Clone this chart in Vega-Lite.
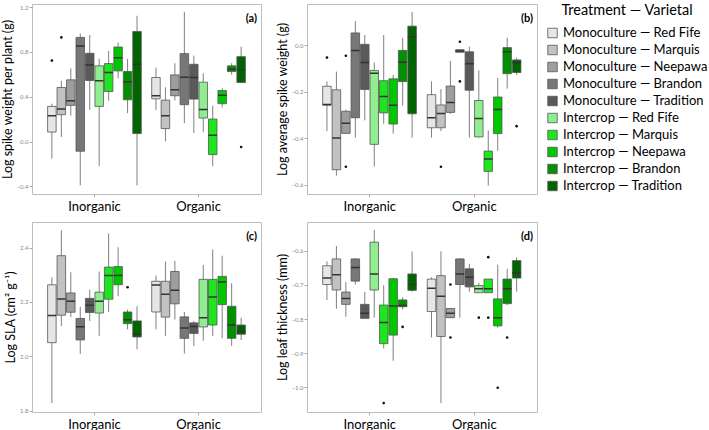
{
  "$schema": "https://vega.github.io/schema/vega-lite/v6.json",
  "padding": {"left": 0, "top": 3, "right": 0, "bottom": 0},
  "background": "white",
  "datasets": {
    "box": [
      {"p":"a","f":"Inorganic","t":"Monoculture — Red Fife","lo":-0.151,"q1":0.085,"m":0.231,"q3":0.314,"hi":0.338},
      {"p":"a","f":"Inorganic","t":"Monoculture — Marquis","lo":0.041,"q1":0.240,"m":0.290,"q3":0.483,"hi":0.542},
      {"p":"a","f":"Inorganic","t":"Monoculture — Neepawa","lo":0.231,"q1":0.323,"m":0.364,"q3":0.551,"hi":0.654},
      {"p":"a","f":"Inorganic","t":"Monoculture — Brandon","lo":-0.391,"q1":-0.086,"m":0.853,"q3":0.930,"hi":0.965},
      {"p":"a","f":"Inorganic","t":"Monoculture — Tradition","lo":0.284,"q1":0.545,"m":0.684,"q3":0.788,"hi":0.951},
      {"p":"a","f":"Inorganic","t":"Intercrop — Red Fife","lo":-0.220,"q1":0.314,"m":0.542,"q3":0.676,"hi":0.738},
      {"p":"a","f":"Inorganic","t":"Intercrop — Marquis","lo":0.364,"q1":0.447,"m":0.616,"q3":0.696,"hi":0.809},
      {"p":"a","f":"Inorganic","t":"Intercrop — Neepawa","lo":0.565,"q1":0.631,"m":0.749,"q3":0.844,"hi":0.885},
      {"p":"a","f":"Inorganic","t":"Intercrop — Brandon","lo":0.254,"q1":0.373,"m":0.533,"q3":0.625,"hi":0.738},
      {"p":"a","f":"Inorganic","t":"Intercrop — Tradition","lo":-0.391,"q1":0.071,"m":0.690,"q3":0.983,"hi":1.123},
      {"p":"a","f":"Organic","t":"Monoculture — Red Fife","lo":0.281,"q1":0.382,"m":0.409,"q3":0.572,"hi":0.660},
      {"p":"a","f":"Organic","t":"Monoculture — Marquis","lo":0.003,"q1":0.116,"m":0.231,"q3":0.370,"hi":0.485},
      {"p":"a","f":"Organic","t":"Monoculture — Neepawa","lo":0.367,"q1":0.409,"m":0.462,"q3":0.595,"hi":0.699},
      {"p":"a","f":"Organic","t":"Monoculture — Brandon","lo":0.165,"q1":0.329,"m":0.574,"q3":0.785,"hi":1.158},
      {"p":"a","f":"Organic","t":"Monoculture — Tradition","lo":0.076,"q1":0.379,"m":0.572,"q3":0.690,"hi":0.767},
      {"p":"a","f":"Organic","t":"Intercrop — Red Fife","lo":0.083,"q1":0.210,"m":0.287,"q3":0.530,"hi":0.610},
      {"p":"a","f":"Organic","t":"Intercrop — Marquis","lo":-0.220,"q1":-0.116,"m":0.056,"q3":0.201,"hi":0.320},
      {"p":"a","f":"Organic","t":"Intercrop — Neepawa","lo":0.305,"q1":0.338,"m":0.414,"q3":0.456,"hi":0.476},
      {"p":"a","f":"Organic","t":"Intercrop — Brandon","lo":0.596,"q1":0.625,"m":0.645,"q3":0.676,"hi":0.699},
      {"p":"a","f":"Organic","t":"Intercrop — Tradition","lo":0.527,"q1":0.527,"m":0.640,"q3":0.758,"hi":0.847},

      {"p":"b","f":"Inorganic","t":"Monoculture — Red Fife","lo":-0.369,"q1":-0.258,"m":-0.255,"q3":-0.177,"hi":-0.156},
      {"p":"b","f":"Inorganic","t":"Monoculture — Marquis","lo":-0.560,"q1":-0.535,"m":-0.399,"q3":-0.192,"hi":-0.114},
      {"p":"b","f":"Inorganic","t":"Monoculture — Neepawa","lo":-0.379,"q1":-0.379,"m":-0.336,"q3":-0.284,"hi":-0.277},
      {"p":"b","f":"Inorganic","t":"Monoculture — Brandon","lo":-0.397,"q1":-0.312,"m":-0.023,"q3":0.052,"hi":0.103},
      {"p":"b","f":"Inorganic","t":"Monoculture — Tradition","lo":-0.323,"q1":-0.191,"m":-0.075,"q3":0.003,"hi":0.043},
      {"p":"b","f":"Inorganic","t":"Intercrop — Red Fife","lo":-0.521,"q1":-0.426,"m":-0.121,"q3":-0.109,"hi":-0.075},
      {"p":"b","f":"Inorganic","t":"Intercrop — Marquis","lo":-0.338,"q1":-0.291,"m":-0.221,"q3":-0.153,"hi":0.043},
      {"p":"b","f":"Inorganic","t":"Intercrop — Neepawa","lo":-0.380,"q1":-0.339,"m":-0.258,"q3":-0.145,"hi":-0.128},
      {"p":"b","f":"Inorganic","t":"Intercrop — Brandon","lo":-0.260,"q1":-0.157,"m":-0.074,"q3":-0.023,"hi":0.031},
      {"p":"b","f":"Inorganic","t":"Intercrop — Tradition","lo":-0.397,"q1":-0.295,"m":0.034,"q3":0.081,"hi":0.142},
      {"p":"b","f":"Organic","t":"Monoculture — Red Fife","lo":-0.397,"q1":-0.355,"m":-0.312,"q3":-0.213,"hi":-0.156},
      {"p":"b","f":"Organic","t":"Monoculture — Marquis","lo":-0.369,"q1":-0.355,"m":-0.294,"q3":-0.257,"hi":-0.189},
      {"p":"b","f":"Organic","t":"Monoculture — Neepawa","lo":-0.295,"q1":-0.289,"m":-0.247,"q3":-0.176,"hi":-0.068},
      {"p":"b","f":"Organic","t":"Monoculture — Brandon","lo":-0.031,"q1":-0.031,"m":-0.026,"q3":-0.020,"hi":-0.020},
      {"p":"b","f":"Organic","t":"Monoculture — Tradition","lo":-0.397,"q1":-0.194,"m":-0.080,"q3":-0.029,"hi":-0.007},
      {"p":"b","f":"Organic","t":"Intercrop — Red Fife","lo":-0.397,"q1":-0.394,"m":-0.315,"q3":-0.238,"hi":-0.109},
      {"p":"b","f":"Organic","t":"Intercrop — Marquis","lo":-0.603,"q1":-0.542,"m":-0.489,"q3":-0.455,"hi":-0.366},
      {"p":"b","f":"Organic","t":"Intercrop — Neepawa","lo":-0.454,"q1":-0.380,"m":-0.277,"q3":-0.223,"hi":-0.142},
      {"p":"b","f":"Organic","t":"Intercrop — Brandon","lo":-0.187,"q1":-0.123,"m":-0.029,"q3":-0.011,"hi":0.031},
      {"p":"b","f":"Organic","t":"Intercrop — Tradition","lo":-0.128,"q1":-0.118,"m":-0.075,"q3":-0.064,"hi":-0.054},

      {"p":"c","f":"Inorganic","t":"Monoculture — Red Fife","lo":1.828,"q1":2.050,"m":2.150,"q3":2.263,"hi":2.290},
      {"p":"c","f":"Inorganic","t":"Monoculture — Marquis","lo":2.111,"q1":2.151,"m":2.211,"q3":2.370,"hi":2.464},
      {"p":"c","f":"Inorganic","t":"Monoculture — Neepawa","lo":2.144,"q1":2.162,"m":2.202,"q3":2.233,"hi":2.309},
      {"p":"c","f":"Inorganic","t":"Monoculture — Brandon","lo":2.008,"q1":2.060,"m":2.109,"q3":2.139,"hi":2.182},
      {"p":"c","f":"Inorganic","t":"Monoculture — Tradition","lo":2.130,"q1":2.161,"m":2.188,"q3":2.213,"hi":2.245},
      {"p":"c","f":"Inorganic","t":"Intercrop — Red Fife","lo":2.075,"q1":2.159,"m":2.202,"q3":2.236,"hi":2.312},
      {"p":"c","f":"Inorganic","t":"Intercrop — Marquis","lo":2.163,"q1":2.210,"m":2.297,"q3":2.328,"hi":2.452},
      {"p":"c","f":"Inorganic","t":"Intercrop — Neepawa","lo":2.221,"q1":2.263,"m":2.297,"q3":2.330,"hi":2.401},
      {"p":"c","f":"Inorganic","t":"Intercrop — Brandon","lo":2.099,"q1":2.120,"m":2.134,"q3":2.163,"hi":2.172},
      {"p":"c","f":"Inorganic","t":"Intercrop — Tradition","lo":2.026,"q1":2.071,"m":2.081,"q3":2.130,"hi":2.184},
      {"p":"c","f":"Organic","t":"Monoculture — Red Fife","lo":2.099,"q1":2.163,"m":2.262,"q3":2.276,"hi":2.297},
      {"p":"c","f":"Organic","t":"Monoculture — Marquis","lo":2.075,"q1":2.144,"m":2.228,"q3":2.276,"hi":2.349},
      {"p":"c","f":"Organic","t":"Monoculture — Neepawa","lo":2.135,"q1":2.193,"m":2.243,"q3":2.312,"hi":2.351},
      {"p":"c","f":"Organic","t":"Monoculture — Brandon","lo":2.010,"q1":2.066,"m":2.104,"q3":2.145,"hi":2.163},
      {"p":"c","f":"Organic","t":"Monoculture — Tradition","lo":2.038,"q1":2.084,"m":2.110,"q3":2.123,"hi":2.130},
      {"p":"c","f":"Organic","t":"Intercrop — Red Fife","lo":2.057,"q1":2.108,"m":2.142,"q3":2.283,"hi":2.336},
      {"p":"c","f":"Organic","t":"Intercrop — Marquis","lo":2.075,"q1":2.115,"m":2.218,"q3":2.283,"hi":2.393},
      {"p":"c","f":"Organic","t":"Intercrop — Neepawa","lo":2.066,"q1":2.190,"m":2.273,"q3":2.294,"hi":2.370},
      {"p":"c","f":"Organic","t":"Intercrop — Brandon","lo":2.038,"q1":2.066,"m":2.115,"q3":2.184,"hi":2.269},
      {"p":"c","f":"Organic","t":"Intercrop — Tradition","lo":2.060,"q1":2.081,"m":2.091,"q3":2.115,"hi":2.142},

      {"p":"d","f":"Inorganic","t":"Monoculture — Red Fife","lo":-0.744,"q1":-0.699,"m":-0.680,"q3":-0.644,"hi":-0.631},
      {"p":"d","f":"Inorganic","t":"Monoculture — Marquis","lo":-0.770,"q1":-0.715,"m":-0.670,"q3":-0.624,"hi":-0.586},
      {"p":"d","f":"Inorganic","t":"Monoculture — Neepawa","lo":-0.793,"q1":-0.757,"m":-0.740,"q3":-0.721,"hi":-0.692},
      {"p":"d","f":"Inorganic","t":"Monoculture — Brandon","lo":-0.699,"q1":-0.689,"m":-0.649,"q3":-0.624,"hi":-0.622},
      {"p":"d","f":"Inorganic","t":"Monoculture — Tradition","lo":-0.798,"q1":-0.798,"m":-0.783,"q3":-0.757,"hi":-0.721},
      {"p":"d","f":"Inorganic","t":"Intercrop — Red Fife","lo":-0.796,"q1":-0.715,"m":-0.668,"q3":-0.575,"hi":-0.539},
      {"p":"d","f":"Inorganic","t":"Intercrop — Marquis","lo":-0.886,"q1":-0.872,"m":-0.810,"q3":-0.759,"hi":-0.701},
      {"p":"d","f":"Inorganic","t":"Intercrop — Neepawa","lo":-0.922,"q1":-0.847,"m":-0.762,"q3":-0.682,"hi":-0.680},
      {"p":"d","f":"Inorganic","t":"Intercrop — Brandon","lo":-0.772,"q1":-0.764,"m":-0.760,"q3":-0.744,"hi":-0.736},
      {"p":"d","f":"Inorganic","t":"Intercrop — Tradition","lo":-0.720,"q1":-0.716,"m":-0.699,"q3":-0.668,"hi":-0.602},
      {"p":"d","f":"Organic","t":"Monoculture — Red Fife","lo":-0.854,"q1":-0.778,"m":-0.710,"q3":-0.683,"hi":-0.678},
      {"p":"d","f":"Organic","t":"Monoculture — Marquis","lo":-1.046,"q1":-0.851,"m":-0.733,"q3":-0.673,"hi":-0.602},
      {"p":"d","f":"Organic","t":"Monoculture — Neepawa","lo":-0.796,"q1":-0.796,"m":-0.783,"q3":-0.769,"hi":-0.769},
      {"p":"d","f":"Organic","t":"Monoculture — Brandon","lo":-0.796,"q1":-0.699,"m":-0.668,"q3":-0.624,"hi":-0.622},
      {"p":"d","f":"Organic","t":"Monoculture — Tradition","lo":-0.720,"q1":-0.706,"m":-0.678,"q3":-0.653,"hi":-0.639},
      {"p":"d","f":"Organic","t":"Intercrop — Red Fife","lo":-0.723,"q1":-0.723,"m":-0.711,"q3":-0.702,"hi":-0.694},
      {"p":"d","f":"Organic","t":"Intercrop — Marquis","lo":-0.723,"q1":-0.723,"m":-0.711,"q3":-0.683,"hi":-0.683},
      {"p":"d","f":"Organic","t":"Intercrop — Neepawa","lo":-0.825,"q1":-0.820,"m":-0.796,"q3":-0.741,"hi":-0.641},
      {"p":"d","f":"Organic","t":"Intercrop — Brandon","lo":-0.759,"q1":-0.755,"m":-0.711,"q3":-0.683,"hi":-0.653},
      {"p":"d","f":"Organic","t":"Intercrop — Tradition","lo":-0.720,"q1":-0.680,"m":-0.665,"q3":-0.629,"hi":-0.619}
    ],
    "out": [
      {"p":"a","f":"Inorganic","t":"Monoculture — Red Fife","v":0.723},
      {"p":"a","f":"Inorganic","t":"Monoculture — Marquis","v":0.930},
      {"p":"a","f":"Organic","t":"Intercrop — Tradition","v":-0.048},
      {"p":"b","f":"Inorganic","t":"Monoculture — Red Fife","v":-0.054},
      {"p":"b","f":"Inorganic","t":"Monoculture — Neepawa","v":-0.046},
      {"p":"b","f":"Inorganic","t":"Monoculture — Neepawa","v":-0.522},
      {"p":"b","f":"Organic","t":"Monoculture — Marquis","v":-0.522},
      {"p":"b","f":"Organic","t":"Monoculture — Brandon","v":0.014},
      {"p":"b","f":"Organic","t":"Monoculture — Brandon","v":-0.156},
      {"p":"b","f":"Organic","t":"Intercrop — Tradition","v":-0.348},
      {"p":"c","f":"Inorganic","t":"Intercrop — Brandon","v":2.254},
      {"p":"d","f":"Inorganic","t":"Intercrop — Marquis","v":-1.046},
      {"p":"d","f":"Inorganic","t":"Intercrop — Brandon","v":-0.823},
      {"p":"d","f":"Organic","t":"Monoculture — Neepawa","v":-0.699},
      {"p":"d","f":"Organic","t":"Monoculture — Neepawa","v":-0.854},
      {"p":"d","f":"Organic","t":"Intercrop — Red Fife","v":-0.796},
      {"p":"d","f":"Organic","t":"Intercrop — Marquis","v":-0.619},
      {"p":"d","f":"Organic","t":"Intercrop — Marquis","v":-0.796},
      {"p":"d","f":"Organic","t":"Intercrop — Neepawa","v":-1.001},
      {"p":"d","f":"Organic","t":"Intercrop — Brandon","v":-0.854}
    ]
  },
  "resolve": {"scale": {"fill": "shared"}, "legend": {"fill": "shared"}},
  "spacing": 7,
  "vconcat": [
    {
      "spacing": 13,
      "hconcat": [
        {
          "width": 229, "height": 190,
          "title": {"text": "(a)", "anchor": "end", "offset": -20, "dx": -4, "fontSize": 11, "fontWeight": "bold"},
          "encoding": {
            "x": {"field": "f", "type": "nominal", "scale": {"domain": ["Inorganic","Organic"], "paddingInner": 0.1, "paddingOuter": 0.15}, "axis": {"title": null}},
            "xOffset": {"field": "t", "type": "nominal", "scale": {"domain": ["Monoculture — Red Fife","Monoculture — Marquis","Monoculture — Neepawa","Monoculture — Brandon","Monoculture — Tradition","Intercrop — Red Fife","Intercrop — Marquis","Intercrop — Neepawa","Intercrop — Brandon","Intercrop — Tradition"], "paddingInner": 0.1}}
          },
          "layer": [
            {"data": {"name": "box"}, "transform": [{"filter": "datum.p === 'a'"}], "mark": {"type": "rule", "color": "#808080", "strokeWidth": 1},
             "encoding": {"y": {"field": "lo", "type": "quantitative", "title": "Log spike weight per plant (g)", "scale": {"domain": [-0.468, 1.228], "nice": false, "zero": false}, "axis": {"values": [-0.4, 0, 0.4, 0.8, 1.2], "format": ".1f"}}, "y2": {"field": "hi"}}},
            {"data": {"name": "box"}, "transform": [{"filter": "datum.p === 'a'"}], "mark": {"type": "bar", "stroke": "#555555", "strokeWidth": 0.8},
             "encoding": {"y": {"field": "q1", "type": "quantitative", "title": "Log spike weight per plant (g)", "scale": {"domain": [-0.468, 1.228], "nice": false, "zero": false}, "axis": {"values": [-0.4, 0, 0.4, 0.8, 1.2], "format": ".1f"}}, "y2": {"field": "q3"},
               "fill": {"field": "t", "type": "nominal", "title": "Treatment — Varietal", "scale": {"domain": ["Monoculture — Red Fife","Monoculture — Marquis","Monoculture — Neepawa","Monoculture — Brandon","Monoculture — Tradition","Intercrop — Red Fife","Intercrop — Marquis","Intercrop — Neepawa","Intercrop — Brandon","Intercrop — Tradition"], "range": ["#e6e6e6","#c2c2c2","#9e9e9e","#777777","#5a5a5a","#90ee90","#1ee61e","#00c800","#009000","#006400"]}}}},
            {"data": {"name": "box"}, "transform": [{"filter": "datum.p === 'a'"}], "mark": {"type": "bar", "stroke": "#333333", "strokeWidth": 1.5, "fill": "transparent"},
             "encoding": {"y": {"field": "m", "type": "quantitative", "title": "Log spike weight per plant (g)", "scale": {"domain": [-0.468, 1.228], "nice": false, "zero": false}, "axis": {"values": [-0.4, 0, 0.4, 0.8, 1.2], "format": ".1f"}}, "y2": {"field": "m"}}},
            {"data": {"name": "out"}, "transform": [{"filter": "datum.p === 'a'"}], "mark": {"type": "point", "filled": true, "color": "#111111", "size": 7, "opacity": 1},
             "encoding": {"y": {"field": "v", "type": "quantitative", "title": "Log spike weight per plant (g)", "scale": {"domain": [-0.468, 1.228], "nice": false, "zero": false}, "axis": {"values": [-0.4, 0, 0.4, 0.8, 1.2], "format": ".1f"}}}}
          ]
        },
        {
          "width": 230, "height": 190,
          "title": {"text": "(b)", "anchor": "end", "offset": -20, "dx": -4, "fontSize": 11, "fontWeight": "bold"},
          "encoding": {
            "x": {"field": "f", "type": "nominal", "scale": {"domain": ["Inorganic","Organic"], "paddingInner": 0.1, "paddingOuter": 0.15}, "axis": {"title": null}},
            "xOffset": {"field": "t", "type": "nominal", "scale": {"domain": ["Monoculture — Red Fife","Monoculture — Marquis","Monoculture — Neepawa","Monoculture — Brandon","Monoculture — Tradition","Intercrop — Red Fife","Intercrop — Marquis","Intercrop — Neepawa","Intercrop — Brandon","Intercrop — Tradition"], "paddingInner": 0.1}}
          },
          "layer": [
            {"data": {"name": "box"}, "transform": [{"filter": "datum.p === 'b'"}], "mark": {"type": "rule", "color": "#808080", "strokeWidth": 1},
             "encoding": {"y": {"field": "lo", "type": "quantitative", "title": "Log average spike weight (g)", "scale": {"domain": [-0.639, 0.176], "nice": false, "zero": false}, "axis": {"values": [-0.6, -0.4, -0.2, 0], "format": ".1f"}}, "y2": {"field": "hi"}}},
            {"data": {"name": "box"}, "transform": [{"filter": "datum.p === 'b'"}], "mark": {"type": "bar", "stroke": "#555555", "strokeWidth": 0.8},
             "encoding": {"y": {"field": "q1", "type": "quantitative", "title": "Log average spike weight (g)", "scale": {"domain": [-0.639, 0.176], "nice": false, "zero": false}, "axis": {"values": [-0.6, -0.4, -0.2, 0], "format": ".1f"}}, "y2": {"field": "q3"},
               "fill": {"field": "t", "type": "nominal", "title": "Treatment — Varietal"}}},
            {"data": {"name": "box"}, "transform": [{"filter": "datum.p === 'b'"}], "mark": {"type": "bar", "stroke": "#333333", "strokeWidth": 1.5, "fill": "transparent"},
             "encoding": {"y": {"field": "m", "type": "quantitative", "title": "Log average spike weight (g)", "scale": {"domain": [-0.639, 0.176], "nice": false, "zero": false}, "axis": {"values": [-0.6, -0.4, -0.2, 0], "format": ".1f"}}, "y2": {"field": "m"}}},
            {"data": {"name": "out"}, "transform": [{"filter": "datum.p === 'b'"}], "mark": {"type": "point", "filled": true, "color": "#111111", "size": 7, "opacity": 1},
             "encoding": {"y": {"field": "v", "type": "quantitative", "title": "Log average spike weight (g)", "scale": {"domain": [-0.639, 0.176], "nice": false, "zero": false}, "axis": {"values": [-0.6, -0.4, -0.2, 0], "format": ".1f"}}}}
          ]
        }
      ]
    },
    {
      "spacing": 13,
      "hconcat": [
        {
          "width": 229, "height": 190,
          "title": {"text": "(c)", "anchor": "end", "offset": -20, "dx": -4, "fontSize": 11, "fontWeight": "bold"},
          "encoding": {
            "x": {"field": "f", "type": "nominal", "scale": {"domain": ["Inorganic","Organic"], "paddingInner": 0.1, "paddingOuter": 0.15}, "axis": {"title": null}},
            "xOffset": {"field": "t", "type": "nominal", "scale": {"domain": ["Monoculture — Red Fife","Monoculture — Marquis","Monoculture — Neepawa","Monoculture — Brandon","Monoculture — Tradition","Intercrop — Red Fife","Intercrop — Marquis","Intercrop — Neepawa","Intercrop — Brandon","Intercrop — Tradition"], "paddingInner": 0.1}}
          },
          "layer": [
            {"data": {"name": "box"}, "transform": [{"filter": "datum.p === 'c'"}], "mark": {"type": "rule", "color": "#808080", "strokeWidth": 1},
             "encoding": {"y": {"field": "lo", "type": "quantitative", "title": "Log SLA (cm² g⁻¹)", "scale": {"domain": [1.795, 2.494], "nice": false, "zero": false}, "axis": {"values": [1.8, 2.0, 2.2, 2.4], "format": ".1f"}}, "y2": {"field": "hi"}}},
            {"data": {"name": "box"}, "transform": [{"filter": "datum.p === 'c'"}], "mark": {"type": "bar", "stroke": "#555555", "strokeWidth": 0.8},
             "encoding": {"y": {"field": "q1", "type": "quantitative", "title": "Log SLA (cm² g⁻¹)", "scale": {"domain": [1.795, 2.494], "nice": false, "zero": false}, "axis": {"values": [1.8, 2.0, 2.2, 2.4], "format": ".1f"}}, "y2": {"field": "q3"},
               "fill": {"field": "t", "type": "nominal", "title": "Treatment — Varietal"}}},
            {"data": {"name": "box"}, "transform": [{"filter": "datum.p === 'c'"}], "mark": {"type": "bar", "stroke": "#333333", "strokeWidth": 1.5, "fill": "transparent"},
             "encoding": {"y": {"field": "m", "type": "quantitative", "title": "Log SLA (cm² g⁻¹)", "scale": {"domain": [1.795, 2.494], "nice": false, "zero": false}, "axis": {"values": [1.8, 2.0, 2.2, 2.4], "format": ".1f"}}, "y2": {"field": "m"}}},
            {"data": {"name": "out"}, "transform": [{"filter": "datum.p === 'c'"}], "mark": {"type": "point", "filled": true, "color": "#111111", "size": 7, "opacity": 1},
             "encoding": {"y": {"field": "v", "type": "quantitative", "title": "Log SLA (cm² g⁻¹)", "scale": {"domain": [1.795, 2.494], "nice": false, "zero": false}, "axis": {"values": [1.8, 2.0, 2.2, 2.4], "format": ".1f"}}}}
          ]
        },
        {
          "width": 230, "height": 190,
          "title": {"text": "(d)", "anchor": "end", "offset": -20, "dx": -4, "fontSize": 11, "fontWeight": "bold"},
          "encoding": {
            "x": {"field": "f", "type": "nominal", "scale": {"domain": ["Inorganic","Organic"], "paddingInner": 0.1, "paddingOuter": 0.15}, "axis": {"title": null}},
            "xOffset": {"field": "t", "type": "nominal", "scale": {"domain": ["Monoculture — Red Fife","Monoculture — Marquis","Monoculture — Neepawa","Monoculture — Brandon","Monoculture — Tradition","Intercrop — Red Fife","Intercrop — Marquis","Intercrop — Neepawa","Intercrop — Brandon","Intercrop — Tradition"], "paddingInner": 0.1}}
          },
          "layer": [
            {"data": {"name": "box"}, "transform": [{"filter": "datum.p === 'd'"}], "mark": {"type": "rule", "color": "#808080", "strokeWidth": 1},
             "encoding": {"y": {"field": "lo", "type": "quantitative", "title": "Log leaf thickness (mm)", "scale": {"domain": [-1.072, -0.516], "nice": false, "zero": false}, "axis": {"values": [-1.0, -0.9, -0.8, -0.7, -0.6], "format": ".1f"}}, "y2": {"field": "hi"}}},
            {"data": {"name": "box"}, "transform": [{"filter": "datum.p === 'd'"}], "mark": {"type": "bar", "stroke": "#555555", "strokeWidth": 0.8},
             "encoding": {"y": {"field": "q1", "type": "quantitative", "title": "Log leaf thickness (mm)", "scale": {"domain": [-1.072, -0.516], "nice": false, "zero": false}, "axis": {"values": [-1.0, -0.9, -0.8, -0.7, -0.6], "format": ".1f"}}, "y2": {"field": "q3"},
               "fill": {"field": "t", "type": "nominal", "title": "Treatment — Varietal"}}},
            {"data": {"name": "box"}, "transform": [{"filter": "datum.p === 'd'"}], "mark": {"type": "bar", "stroke": "#333333", "strokeWidth": 1.5, "fill": "transparent"},
             "encoding": {"y": {"field": "m", "type": "quantitative", "title": "Log leaf thickness (mm)", "scale": {"domain": [-1.072, -0.516], "nice": false, "zero": false}, "axis": {"values": [-1.0, -0.9, -0.8, -0.7, -0.6], "format": ".1f"}}, "y2": {"field": "m"}}},
            {"data": {"name": "out"}, "transform": [{"filter": "datum.p === 'd'"}], "mark": {"type": "point", "filled": true, "color": "#111111", "size": 7, "opacity": 1},
             "encoding": {"y": {"field": "v", "type": "quantitative", "title": "Log leaf thickness (mm)", "scale": {"domain": [-1.072, -0.516], "nice": false, "zero": false}, "axis": {"values": [-1.0, -0.9, -0.8, -0.7, -0.6], "format": ".1f"}}}}
          ]
        }
      ]
    }
  ],
  "config": {
    "font": "Lato",
    "view": {"stroke": "#bdbdbd", "strokeWidth": 1},
    "axis": {"grid": false, "domain": false, "tickColor": "#aaaaaa", "tickSize": 3},
    "axisY": {"labelFontSize": 6, "labelColor": "#888888", "labelPadding": 1, "titleFontSize": 12.5, "titleFontWeight": "normal", "titleColor": "#000000", "titlePadding": 2},
    "axisX": {"labelFontSize": 13, "labelColor": "#000000", "labelPadding": 3, "labelAngle": 0},
    "title": {"color": "#000000"},
    "legend": {"titleFontSize": 14.5, "titleFontWeight": "normal", "titleColor": "#000000", "titleAnchor": "middle", "labelFontSize": 13, "labelColor": "#000000", "symbolType": "square", "symbolSize": 90, "symbolStrokeColor": "#555555", "symbolStrokeWidth": 0.8, "rowPadding": 3, "offset": 8, "titlePadding": 8, "labelLimit": 200}
  }
}
